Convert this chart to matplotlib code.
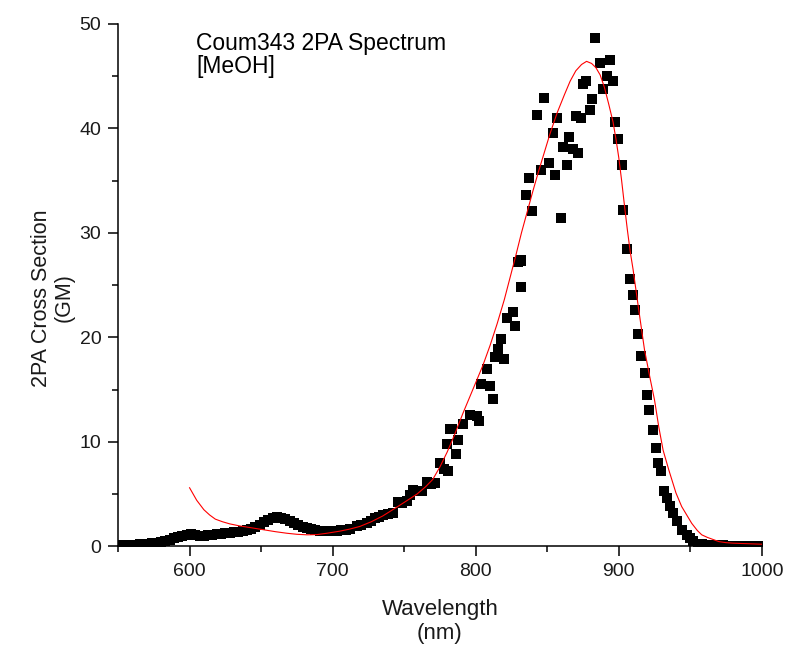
import numpy as np
import matplotlib
matplotlib.use("Agg")
import matplotlib.pyplot as plt
from matplotlib.ticker import MultipleLocator

plt.rcParams['font.family'] = ['Liberation Sans', 'DejaVu Sans']

# measured 2PA points (wavelength nm, cross section GM)
wl_data = [550, 553, 556, 559, 562, 565, 568, 571, 574, 577, 580, 583, 586, 589, 592,
           595, 598, 601, 604, 607, 610, 613, 616, 619, 622, 625, 628, 631, 634, 637,
           640, 643, 646, 649, 652, 655, 658, 661, 664, 667, 670, 673, 676, 679, 682,
           685, 688, 691, 694, 697, 700, 703, 706, 709, 712, 716.8, 720, 723.8, 726.5,
           729.6, 732.5, 735.4, 738.5, 742.3, 745.8, 748.5, 751.7, 754, 756.3, 759,
           762.2, 765.7, 768.5, 771.5, 775, 778, 779.7, 780.8, 782, 783.2, 786.2, 787.8,
           791.3, 796, 800.6, 802.5, 804, 808, 810, 811.8, 813.4, 815.8, 817.4, 819.7,
           821.6, 825.8, 827.4, 829.8, 831.4, 831.4, 832, 835.5, 837.5, 839.5, 843.2,
           845.3, 847.8, 851.4, 853.7, 855.4, 857, 859.6, 861, 863.5, 865.3, 867.7, 870,
           871.6, 873.5, 875, 877, 879.8, 881.6, 883.3, 886.8, 889, 891.5, 893.8, 896,
           897.3, 899.6, 902, 903.1, 905.5, 907.8, 909.7, 911.3, 913.6, 915.5, 918.3,
           919.4, 921.3, 923.6, 925.7, 927.5, 929.2, 931.5, 933.4, 935.7, 938, 940.8,
           943.9, 947.4, 950, 952, 955.5, 958, 961, 964, 967, 970, 973, 976, 979, 982,
           985, 988, 991, 994, 997, 1000]
gm_data = [0.1, 0.1, 0.15, 0.1, 0.15, 0.2, 0.15, 0.25, 0.3, 0.35, 0.4, 0.5, 0.6, 0.75, 0.9,
           1.0, 1.1, 1.15, 1.05, 1.0, 1.0, 1.05, 1.1, 1.15, 1.15, 1.25, 1.3, 1.35, 1.4, 1.5,
           1.55, 1.7, 1.85, 2.05, 2.3, 2.5, 2.7, 2.8, 2.75, 2.6, 2.4, 2.2, 2.0, 1.85, 1.75,
           1.65, 1.6, 1.5, 1.5, 1.45, 1.5, 1.5, 1.55, 1.6, 1.65, 1.9, 2.0, 2.2, 2.4,
           2.7, 2.8, 3.0, 3.1, 3.2, 4.2, 4.1, 4.3, 4.9, 5.4, 5.3,
           5.3, 6.2, 6.0, 6.1, 8.0, 7.4, 9.8, 7.2, 11.2, 11.2, 8.8, 10.2,
           11.7, 12.6, 12.5, 12.0, 15.5, 17.0, 15.3, 14.1, 18.1, 18.9, 19.8, 17.9,
           21.8, 22.4, 21.1, 27.2, 27.3, 24.8, 27.4, 33.6, 35.2, 32.1, 41.3,
           36.0, 42.9, 36.7, 39.5, 35.5, 41.0, 31.4, 38.2, 36.5, 39.2, 38.0, 41.2,
           37.6, 41.0, 44.2, 44.5, 41.7, 42.8, 48.6, 46.2, 43.8, 45.0, 46.5, 44.5,
           40.6, 39.0, 36.5, 32.2, 28.4, 25.6, 24.0, 22.6, 20.3, 18.2, 16.6,
           14.5, 13.0, 11.1, 9.4, 8.0, 7.2, 5.3, 4.6, 3.9, 3.2, 2.4,
           1.6, 1.1, 0.8, 0.5, 0.25, 0.2, 0.15, 0.1, 0.1, 0.1, 0.1, 0.05, 0.05, 0.05,
           0.05, 0.05, 0.05, 0.05, 0.05, 0.05]

# fitted curve
wl_fit = [600, 605, 610, 614, 618, 623, 628, 635, 642, 651, 660, 668, 675, 682, 689,
          696, 705, 712, 719, 727, 735, 742, 750, 759, 765, 770, 775, 780, 785, 791,
          798, 805, 810, 815, 820, 824, 828, 832, 836, 840, 844, 848, 852, 857, 862, 866,
          870, 874, 877.5, 881, 884, 887, 890, 893, 896, 898, 900, 902, 904, 906, 908,
          910, 914, 918, 922, 925, 928, 931, 935, 940, 944, 947.5, 951, 955, 958, 962,
          966, 970, 975, 980, 990, 1000]
gm_fit = [5.6, 4.4, 3.5, 3.0, 2.6, 2.35, 2.15, 1.95, 1.8, 1.6, 1.4, 1.25, 1.15, 1.1, 1.12,
          1.25, 1.45, 1.65, 1.9, 2.35, 2.9, 3.5, 4.2, 5.0, 5.7, 6.4, 7.6, 9.0, 10.6, 12.7,
          15.0, 17.3, 19.2, 21.3, 23.6, 25.7, 27.8, 30.0, 32.0, 34.0, 35.9, 37.7, 39.5, 41.5, 43.2, 44.5,
          45.5, 46.1, 46.4, 46.2, 45.8, 45.1, 43.9, 42.3, 40.6, 39.0, 37.2, 35.0, 32.6, 30.3, 28.2,
          26.5, 22.6, 18.8, 16.0, 14.0, 11.4, 9.2, 7.3, 5.1, 3.8, 3.0, 2.2, 1.5, 1.1, 0.85,
          0.65, 0.45, 0.35, 0.3, 0.25, 0.2]

fig = plt.figure(figsize=(7.87, 6.59), dpi=100)
ax = fig.add_axes([0.150, 0.171, 0.818, 0.793])

ax.plot(wl_data, gm_data, linestyle='none', marker='s', markersize=7.5,
        color='black', markeredgewidth=0)
ax.plot(wl_fit, gm_fit, color='#ff0000', linewidth=0.8)

ax.set_xlim(550, 1000)
ax.set_ylim(0, 50)
ax.xaxis.set_major_locator(MultipleLocator(100))
ax.xaxis.set_minor_locator(MultipleLocator(50))
ax.yaxis.set_major_locator(MultipleLocator(10))
ax.yaxis.set_minor_locator(MultipleLocator(5))
ax.set_xticks([600, 700, 800, 900, 1000])

for s in ['top', 'right']:
    ax.spines[s].set_visible(False)
for s in ['left', 'bottom']:
    ax.spines[s].set_linewidth(1.1)
ax.tick_params(which='major', direction='out', length=7, width=1.1,
               labelsize=14, pad=5, labelcolor='#1a1a1a')
ax.tick_params(which='minor', direction='out', length=4, width=1.1)

ax.text(0.121, 0.984, 'Coum343 2PA Spectrum\n[MeOH]', transform=ax.transAxes,
        ha='left', va='top', fontsize=16.5, linespacing=1.02)

fig.text(0.559, 0.057, 'Wavelength\n(nm)', ha='center', va='center',
         fontsize=16, linespacing=1.15, color='#1a1a1a')
fig.text(0.067, 0.548, '2PA Cross Section\n(GM)', ha='center', va='center',
         rotation=90, fontsize=15.5, linespacing=1.1, color='#1a1a1a')

fig.savefig('out.png', dpi=100)
